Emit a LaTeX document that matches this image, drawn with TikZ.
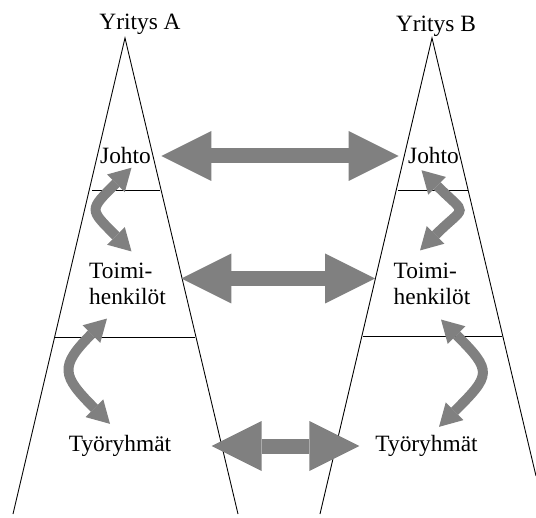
\documentclass[tikz,border=0pt]{standalone}
\usepackage{fontspec}
\setmainfont{Liberation Serif}
\usepackage{tikz}
\usetikzlibrary{arrows.meta}
\tikzstyle{tiertext} = [font=\fontsize{13.3}{15}\selectfont, inner sep=2pt, outer sep=0pt]
\tikzstyle{bigarrow} = [draw=gray, line width=0.3cm, {Triangle[length=1cm,width=1cm,line width=0pt]}-{Triangle[length=1cm,width=1cm,line width=0pt]}]
\tikzstyle{bendarrow} = [draw=gray, line width=0.2cm, {Triangle[length=0.44cm,width=0.5cm,line width=0pt]}-{Triangle[length=0.44cm,width=0.5cm,line width=0pt]}]

\begin{document}
\begin{tikzpicture}
\useasboundingbox (0,0) rectangle (10.72,10.34);

% the two pyramids
\draw[line width=0.5pt] (0.26,0.06) -- (2.50,9.58) -- (4.76,0.06);
\draw[line width=0.5pt] (6.40,0.06) -- (8.64,9.58) -- (10.72,0.82);
\draw[line width=0.5pt] (1.84,6.54) -- (3.20,6.54);
\draw[line width=0.5pt] (1.10,3.60) -- (3.90,3.60);
\draw[line width=0.5pt] (7.96,6.54) -- (9.36,6.54);
\draw[line width=0.5pt] (7.26,3.62) -- (10.04,3.62);

	\node[tiertext] (yA) at (2.80,9.86) {Yritys A};
	\node[tiertext] (yB) at (8.72,9.82) {Yritys B};

	\node[tiertext] (johtoA) at (2.51,7.22) {Johto};
	\node[tiertext] (johtoB) at (8.67,7.22) {Johto};
	\node[tiertext, align=left] (toimiA) at (2.55,4.66) {Toimi-\\henkilöt};
	\node[tiertext, align=left] (toimiB) at (8.64,4.66) {Toimi-\\henkilöt};
	\node[tiertext] (tyoA) at (2.40,1.42) {Työryhmät};
	\node[tiertext] (tyoB) at (8.53,1.42) {Työryhmät};

% between the companies
    \draw[bigarrow, shorten <=0.14cm, shorten >=0.12cm] (johtoA.east) -- (johtoB.west);
    \draw[bigarrow, shorten <=0.24cm, shorten >=0.30cm] ([yshift=0.11cm]toimiA.east) -- ([yshift=0.11cm]toimiB.west);
    \draw[bigarrow, shorten <=0.74cm, shorten >=0.25cm] (tyoA.east) -- (tyoB.west);

% inside the companies
    \draw[bendarrow] ([xshift=0.12cm]johtoA.south) to[out=225,in=135,looseness=1.85] ([shift={(0.08,0.16)}]toimiA.north);
    \draw[bendarrow] ([shift={(-0.41,-0.20)}]toimiA.south) to[out=225,in=135,looseness=1.65] ([shift={(-0.20,0.16)}]tyoA.north);
    \draw[bendarrow] ([shift={(-0.24,-0.05)}]johtoB.south) to[out=-45,in=45,looseness=2.1] ([shift={(-0.24,0.18)}]toimiB.north);
    \draw[bendarrow] ([shift={(0.18,-0.22)}]toimiB.south) to[out=-45,in=45,looseness=1.75] ([shift={(0.25,0.10)}]tyoB.north);
\end{tikzpicture}
\end{document}
